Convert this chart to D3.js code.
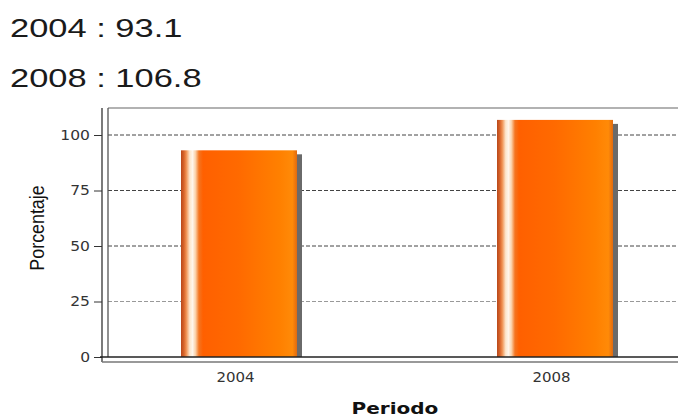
<!DOCTYPE html>
<html>
<head>
<meta charset="utf-8">
<script src="https://cdn.jsdelivr.net/npm/d3@7"></script>
<style>
  html, body { margin: 0; padding: 0; background: #fff; }
  svg { display: block; }
</style>
</head>
<body>
<svg id="chart" width="678" height="417"></svg>
<script>
// Periods and their percentage values
const categories = ["2004", "2008"];
const values = [93.1, 106.8];
const yTicks = [0, 25, 50, 75, 100];

const W = 678, H = 417;
const plot = { left: 108, right: 678, top: 108, bottom: 357 };

const svg = d3.select("#chart");

// Widen glyphs horizontally by factor k, keeping the text anchor
function stretch(sel, k) {
  sel.each(function () {
    const L = this.getComputedTextLength();
    this.setAttribute("textLength", L * k);
    this.setAttribute("lengthAdjust", "spacingAndGlyphs");
  });
}

// Header lines: "period : value"
svg.selectAll("text.head")
  .data(categories)
  .join("text")
  .attr("class", "head")
  .attr("x", 10)
  .attr("y", (d, i) => 37 + i * 50)
  .attr("font-family", "Liberation Sans, Arial, sans-serif")
  .attr("font-size", 26.5)
  .attr("fill", "#1a1a1a")
  .text((d, i) => `${d} : ${values[i]}`)
  .call(stretch, 1.3);

const y = d3.scaleLinear().domain([0, 100]).range([plot.bottom, 135]);
const x = d3.scalePoint().domain(categories).range([239, 555]);
const barW = 116;

// Bar fill: dark rim, pale highlight stripe, then orange body
const defs = svg.append("defs");
const g = defs.append("linearGradient").attr("id", "barGrad")
  .attr("x1", "0").attr("x2", "1").attr("y1", "0").attr("y2", "0");
[
  [0, "#b8481a"], [0.025, "#d8642a"], [0.045, "#f09050"], [0.075, "#fde6cc"],
  [0.1, "#fff6ec"], [0.125, "#fbd0a8"], [0.155, "#f47420"], [0.19, "#ff6000"],
  [0.5, "#ff6a00"], [0.85, "#ff8000"], [0.96, "#ff8a08"], [1, "#e06a10"]
].forEach(([o, c]) => g.append("stop").attr("offset", o).attr("stop-color", c));

// Plot frame: top border
svg.append("line")
  .attr("x1", plot.left).attr("x2", plot.right)
  .attr("y1", plot.top).attr("y2", plot.top)
  .attr("stroke", "#999").attr("stroke-width", 1.5);

// Dashed gridlines
svg.append("g").selectAll("line")
  .data(yTicks.filter(t => t > 0))
  .join("line")
  .attr("x1", plot.left).attr("x2", plot.right)
  .attr("y1", d => y(d)).attr("y2", d => y(d))
  .attr("stroke", d => d === 25 ? "#999" : "#444")
  .attr("stroke-width", 1)
  .attr("stroke-dasharray", "4,2");

// Bar shadows
svg.append("g").selectAll("rect")
  .data(values)
  .join("rect")
  .attr("x", (d, i) => x(categories[i]) - barW / 2 + 5)
  .attr("y", d => y(d) + 4)
  .attr("width", barW)
  .attr("height", d => plot.bottom - y(d) - 4)
  .attr("fill", "#6a6a6a");

// Bars
svg.append("g").selectAll("rect")
  .data(values)
  .join("rect")
  .attr("x", (d, i) => x(categories[i]) - barW / 2)
  .attr("y", d => y(d))
  .attr("width", barW)
  .attr("height", d => plot.bottom - y(d))
  .attr("fill", "url(#barGrad)");

// Y axis
const yAxis = svg.append("g")
  .attr("transform", `translate(${plot.left - 6},0)`)
  .call(d3.axisLeft(y).tickValues(yTicks).tickSize(8).tickPadding(4));
yAxis.select(".domain").attr("d", `M0,${plot.top}V${plot.bottom + 5}`).attr("stroke", "#333").attr("stroke-width", 1.3);
yAxis.selectAll(".tick line").attr("stroke", "#333");
yAxis.selectAll(".tick text")
  .attr("font-family", "DejaVu Sans, Verdana, sans-serif")
  .attr("font-size", 13.5).attr("fill", "#333")
  .call(stretch, 1.15);

// Inner left edge of plot
svg.append("line")
  .attr("x1", plot.left).attr("x2", plot.left)
  .attr("y1", plot.top).attr("y2", plot.bottom)
  .attr("stroke", "#555").attr("stroke-width", 1.3);

// X axis: baseline plus lower rule
svg.append("line")
  .attr("x1", plot.left - 8).attr("x2", plot.right)
  .attr("y1", plot.bottom).attr("y2", plot.bottom)
  .attr("stroke", "#222").attr("stroke-width", 1.5);
const xAxis = svg.append("g")
  .attr("transform", `translate(0,${plot.bottom + 5})`)
  .call(d3.axisBottom(x).tickSize(0).tickPadding(10));
xAxis.select(".domain").attr("d", `M${plot.left - 6},0H${plot.right}`).attr("stroke", "#777").attr("stroke-width", 1.3);
xAxis.selectAll(".tick text")
  .attr("dx", -4)
  .attr("font-family", "DejaVu Sans, Verdana, sans-serif")
  .attr("font-size", 14).attr("fill", "#333")
  .call(stretch, 1.07);

// Axis titles
svg.append("text")
  .attr("x", 395).attr("y", 414)
  .attr("text-anchor", "middle")
  .attr("font-family", "DejaVu Sans, Verdana, sans-serif")
  .attr("font-weight", "bold")
  .attr("font-size", 16)
  .attr("fill", "#111")
  .text("Periodo")
  .call(stretch, 1.25);

svg.append("text")
  .attr("transform", "translate(44,228) rotate(-90)")
  .attr("text-anchor", "middle")
  .attr("font-family", "Liberation Sans Narrow, Arial Narrow, Liberation Sans, sans-serif")
  .attr("font-size", 20.5)
  .attr("fill", "#111")
  .text("Porcentaje")
  .call(stretch, 0.87);
</script>
</body>
</html>
